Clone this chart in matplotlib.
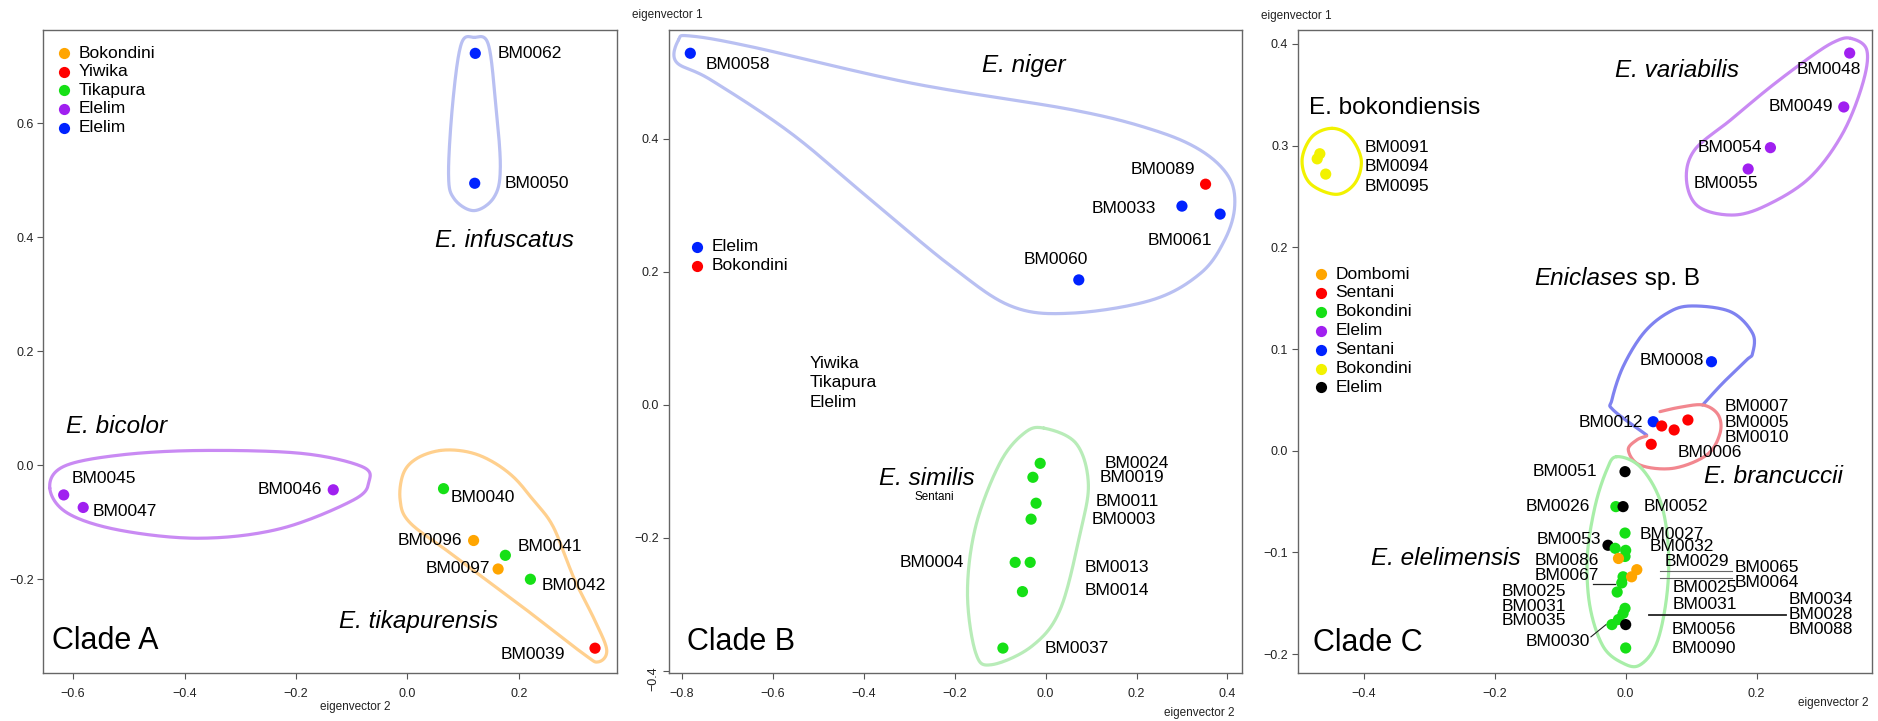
import matplotlib.pyplot as plt
import numpy as np

plt.rcParams['font.family'] = ['Liberation Sans', 'DejaVu Sans']

ORANGE = "#ffa500"
RED = "#ff0000"
GREEN = "#16e016"
PURPLE = "#a020f0"
BLUE = "#0022ff"
YELLOW = "#f2f200"
BLACK = "#000000"

# ---------------- Clade A ----------------
a_legend = ["Bokondini", "Yiwika", "Tikapura", "Elelim", "Elelim"]
a_legend_col = [ORANGE, RED, GREEN, PURPLE, BLUE]
a_ids = ["BM0062", "BM0050", "BM0045", "BM0047", "BM0046", "BM0040",
         "BM0096", "BM0041", "BM0097", "BM0042", "BM0039"]
a_x = [0.122, 0.121, -0.617, -0.582, -0.133, 0.065, 0.119, 0.176, 0.163, 0.221, 0.337]
a_y = [0.723, 0.495, -0.052, -0.074, -0.043, -0.041, -0.132, -0.158, -0.182, -0.200, -0.321]
a_grp = [4, 4, 3, 3, 3, 2, 0, 2, 0, 2, 1]

# ---------------- Clade B ----------------
b_legend = ["Elelim", "Bokondini"]
b_legend_col = [BLUE, RED]
b_extra = ["Yiwika", "Tikapura", "Elelim"]
b_ids = ["BM0058", "BM0089", "BM0033", "BM0061", "BM0060", "BM0024", "BM0019",
         "BM0011", "BM0003", "BM0004", "BM0013", "BM0014", "BM0037"]
b_x = [-0.782, 0.352, 0.300, 0.384, 0.073, -0.012, -0.028, -0.021, -0.032, -0.067, -0.034, -0.051, -0.094]
b_y = [0.529, 0.332, 0.299, 0.287, 0.188, -0.088, -0.109, -0.148, -0.172, -0.237, -0.237, -0.281, -0.366]
b_col = [BLUE, RED, BLUE, BLUE, BLUE] + [GREEN] * 8

# ---------------- Clade C ----------------
c_legend = ["Dombomi", "Sentani", "Bokondini", "Elelim", "Sentani", "Bokondini", "Elelim"]
c_legend_col = [ORANGE, RED, GREEN, PURPLE, BLUE, YELLOW, BLACK]
c_x = [0.342, 0.333, 0.221, 0.187,
       -0.467, -0.471, -0.458,
       0.131, 0.042,
       0.055, 0.074, 0.095, 0.039,
       -0.027,
       -0.015, -0.001, -0.016, 0.000, -0.001, -0.004, -0.006, -0.013, -0.001, -0.004, -0.011, -0.021, 0.000,
       -0.011, 0.017, 0.009,
       -0.001, -0.004, 0.000]
c_y = [0.391, 0.338, 0.298, 0.277,
       0.292, 0.287, 0.272,
       0.0875, 0.0285,
       0.0243, 0.0204, 0.0302, 0.0063,
       -0.093,
       -0.055, -0.081, -0.096, -0.098, -0.104, -0.124, -0.130, -0.139, -0.155, -0.160, -0.166, -0.171, -0.194,
       -0.106, -0.117, -0.124,
       -0.0206, -0.055, -0.171]
c_grp = [3, 3, 3, 3,
         5, 5, 5,
         4, 4,
         1, 1, 1, 1,
         6,
         2, 2, 2, 2, 2, 2, 2, 2, 2, 2, 2, 2, 2,
         0, 0, 0,
         6, 6, 6]

# label placement (offsets in pixels from the point, or data positions for clade C)
a_lab = [(22, 0, 'left'), (30, 0, 'left'), (8, 16, 'left'), (9, -4, 'left'), (-11, 0, 'right'),
         (7, -9, 'left'), (-11, 0, 'right'), (12, 9, 'left'), (-8, 0, 'right'), (11, -6, 'left'),
         (-30, -6, 'right')]
b_lab = [(15, -11, 'left'), (-10, 15, 'right'), (-26, -2, 'right'), (-8, -26, 'right'),
         (-23, 20, 'center'), (64, 0, 'left'), (67, 0, 'left'), (60, 2, 'left'), (61, 0, 'left'),
         (-51, 0, 'right'), (54, -5, 'left'), (62, 1, 'left'), (42, 0, 'left')]
c_lab = [("BM0048", 0.359, 0.375, 'right'), ("BM0049", 0.317, 0.338, 'right'),
         ("BM0054", 0.209, 0.298, 'right'), ("BM0055", 0.153, 0.263, 'center'),
         ("BM0091", -0.399, 0.298, 'left'), ("BM0094", -0.399, 0.279, 'left'),
         ("BM0095", -0.399, 0.260, 'left'), ("BM0008", 0.021, 0.089, 'left'),
         ("BM0012", 0.026, 0.0276, 'right'), ("BM0007", 0.151, 0.043, 'left'),
         ("BM0005", 0.151, 0.0276, 'left'), ("BM0010", 0.151, 0.0128, 'left'),
         ("BM0006", 0.079, -0.002, 'left'), ("BM0051", -0.044, -0.0206, 'right'),
         ("BM0026", -0.0545, -0.055, 'right'), ("BM0052", 0.027, -0.055, 'left'),
         ("BM0027", 0.021, -0.082, 'left'), ("BM0053", -0.038, -0.087, 'right'),
         ("BM0032", 0.037, -0.094, 'left'), ("BM0086", -0.040, -0.108, 'right'),
         ("BM0029", 0.059, -0.1085, 'left'), ("BM0065", 0.166, -0.115, 'left'),
         ("BM0064", 0.166, -0.130, 'left'), ("BM0067", -0.040, -0.123, 'right'),
         ("BM0025", -0.091, -0.138, 'right'), ("BM0025", 0.0715, -0.135, 'left'),
         ("BM0031", -0.091, -0.153, 'right'), ("BM0031", 0.0715, -0.151, 'left'),
         ("BM0034", 0.249, -0.146, 'left'), ("BM0028", 0.249, -0.161, 'left'),
         ("BM0088", 0.249, -0.1756, 'left'), ("BM0035", -0.091, -0.167, 'right'),
         ("BM0056", 0.0696, -0.176, 'left'), ("BM0030", -0.0545, -0.188, 'right'),
         ("BM0090", 0.0696, -0.195, 'left')]
c_leaders = [((0.053, 0.163), (-0.118, -0.118), "#666666", 0.8),
             ((0.053, 0.163), (-0.1255, -0.1255), "#666666", 0.8),
             ((-0.050, -0.016), (-0.131, -0.131), "#222222", 0.9),
             ((0.036, 0.245), (-0.162, -0.162), "#222222", 1.3),
             ((-0.053, -0.030), (-0.183, -0.171), "#222222", 0.8)]

# hand drawn group outlines (control points, data units)
outlines_a = [
    ([0.120, 0.145, 0.158, 0.167, 0.156, 0.120, 0.084, 0.074, 0.082, 0.097],
     [0.751, 0.740, 0.641, 0.524, 0.471, 0.447, 0.468, 0.512, 0.641, 0.740], "#b9c0f2", True),
    ([-0.642, -0.617, -0.516, -0.371, -0.191, -0.082, -0.069, -0.097, -0.227, -0.371, -0.516, -0.610],
     [-0.040, -0.002, 0.018, 0.026, 0.021, -0.002, -0.029, -0.061, -0.111, -0.128, -0.114, -0.084], "#c98af3", True),
    ([0.059, 0.017, -0.007, -0.013, 0.004, 0.077, 0.206, 0.315, 0.343, 0.358, 0.336, 0.300, 0.262,
      0.226, 0.190, 0.148, 0.106],
     [0.026, 0.012, -0.014, -0.060, -0.100, -0.154, -0.248, -0.330, -0.345, -0.324, -0.271, -0.200, -0.108,
      -0.061, -0.020, 0.009, 0.024],
     "#ffd08e", True),
]
outlines_b = [
    ([-0.808, -0.782, -0.649, -0.295, 0.058, 0.235, 0.341, 0.403, 0.416, 0.394, 0.341, 0.235, 0.058,
      -0.074, -0.207, -0.384, -0.561, -0.737, -0.813],
     [0.549, 0.555, 0.539, 0.484, 0.444, 0.414, 0.383, 0.343, 0.298, 0.248, 0.198, 0.158, 0.138,
      0.148, 0.208, 0.308, 0.409, 0.489, 0.516], "#b9c0f2", True),
    ([-0.004, 0.067, 0.094, 0.076, 0.032, -0.030, -0.119, -0.154, -0.172, -0.154, -0.101, -0.048],
     [-0.035, -0.058, -0.118, -0.193, -0.308, -0.363, -0.391, -0.373, -0.283, -0.183, -0.088, -0.043],
     "#b8ecb8", True),
]
outlines_c = [
    ([-0.4483, -0.4208, -0.4037, -0.4135, -0.4422, -0.4819, -0.4941, -0.4788],
     [0.3170, 0.3088, 0.2858, 0.2629, 0.2521, 0.2629, 0.2858, 0.3088], "#f2f200", True),
    ([0.3437, 0.3681, 0.3620, 0.3314, 0.2825, 0.2214, 0.1663, 0.1113, 0.0928, 0.1052, 0.1602, 0.2214, 0.2825, 0.3191],
     [0.4055, 0.3940, 0.3612, 0.3121, 0.2694, 0.2433, 0.2318, 0.2399, 0.2662, 0.2957, 0.3252, 0.3579, 0.3874, 0.4022],
     "#c98af3", True),
    ([0.032, -0.019, -0.021, -0.004, 0.027, 0.063, 0.099, 0.160, 0.1938, 0.1938, 0.1846, 0.148, 0.1174],
     [0.0154, 0.040, 0.050, 0.0826, 0.1154, 0.1351, 0.1423, 0.1367, 0.1154, 0.0958, 0.0892, 0.0663, 0.0449],
     "#7f82f0", False),
    ([0.0524, 0.0829, 0.1185, 0.1414, 0.1440, 0.1237, 0.0727, 0.0218, 0.0040, 0.0168, 0.0321],
     [0.0384, 0.0427, 0.0449, 0.0351, 0.0171, -0.0042, -0.0173, -0.0141, 0.0007, 0.0105, 0.0145],
     "#f2878f", False),
    ([-0.0137, 0.0218, 0.0524, 0.0651, 0.0626, 0.0473, 0.0218, -0.0037, -0.0342, -0.0545, -0.0586, -0.0469, -0.0290],
     [-0.0059, -0.0157, -0.0485, -0.0944, -0.1436, -0.1894, -0.2107, -0.2091, -0.1927, -0.1534, -0.1042, -0.0551, -0.0190],
     "#a8eea8", True),
]

LAB = 12.5
SPEC = 17.5
CLADE = 22
MS = 65


def spline(px, py, closed=True, n=24):
    # Catmull-Rom durch die Kontrollpunkte
    pts = np.column_stack([px, py])
    if closed:
        P = np.vstack([pts[-1], pts, pts[0], pts[1]])
    else:
        P = np.vstack([pts[0], pts, pts[-1]])
    t = np.linspace(0, 1, n, endpoint=False)[:, None]
    out = []
    for i in range(1, len(P) - 2):
        p0, p1, p2, p3 = P[i - 1], P[i], P[i + 1], P[i + 2]
        out.append(0.5 * (2 * p1 + (-p0 + p2) * t + (2 * p0 - 5 * p1 + 4 * p2 - p3) * t ** 2
                          + (-p0 + 3 * p1 - 3 * p2 + p3) * t ** 3))
    out.append(P[-2][None])
    return np.vstack(out)


def style_axes(ax, xlim, ylim, xt, yt):
    ax.set_xlim(*xlim)
    ax.set_ylim(*ylim)
    ax.set_xticks(xt)
    ax.set_yticks(yt)
    ax.set_xticklabels([f"{v:.1f}".replace("-", "\u2212") for v in xt])
    ax.set_yticklabels([f"{v:.1f}".replace("-", "\u2212") for v in yt])
    for s in ax.spines.values():
        s.set_color("#666666")
        s.set_linewidth(1.0)
    ax.tick_params(axis='both', labelsize=9, length=4, width=0.8, color="#555555", labelcolor="#222222")
    ax.tick_params(axis='x', pad=7)
    ax.tick_params(axis='y', pad=3)


def draw_outlines(ax, outlines):
    for ox, oy, col, closed in outlines:
        pts = spline(ox, oy, closed)
        ax.plot(pts[:, 0], pts[:, 1], color=col, lw=2.3, solid_capstyle='round', zorder=1)


def draw_legend(ax, names, cols, x0, y0, dy):
    for i, (nm, col) in enumerate(zip(names, cols)):
        y = y0 - i * dy
        ax.scatter([x0], [y], s=MS, color=col, transform=ax.transAxes, zorder=3, linewidths=0)
        ax.text(x0 + 0.025, y, nm, transform=ax.transAxes, fontsize=LAB, va='center', ha='left')


fig = plt.figure(figsize=(18.78, 7.21), dpi=100)
axA = fig.add_axes([0.0231, 0.067, 0.3053, 0.8914])
axB = fig.add_axes([0.3562, 0.067, 0.3051, 0.8914])
axC = fig.add_axes([0.6912, 0.067, 0.3054, 0.8914])

# ---- panel A ----
style_axes(axA, (-0.6535, 0.376), (-0.364, 0.764), [-0.6, -0.4, -0.2, 0.0, 0.2], [-0.2, 0.0, 0.2, 0.4, 0.6])
draw_outlines(axA, outlines_a)
axA.scatter(a_x, a_y, s=MS, c=[a_legend_col[g] for g in a_grp], linewidths=0, zorder=3)
for i, lid in enumerate(a_ids):
    dx, dy, ha = a_lab[i]
    axA.annotate(lid, (a_x[i], a_y[i]), xytext=(dx, dy), textcoords='offset pixels',
                 fontsize=LAB, ha=ha, va='center')
draw_legend(axA, a_legend, a_legend_col, 0.0364, 0.9638, 0.0289)
axA.text(0.049, 0.395, "E. infuscatus", style='italic', fontsize=SPEC, va='center')
axA.text(-0.613, 0.068, "E. bicolor", style='italic', fontsize=SPEC, va='center')
axA.text(-0.122, -0.274, "E. tikapurensis", style='italic', fontsize=SPEC, va='center')
axA.text(0.015, 0.049, "Clade A", transform=axA.transAxes, fontsize=CLADE, va='center')
fig.text(0.1891, 0.0198, "eigenvector 2", fontsize=8.5, ha='center', va='center', color="#222222")

# ---- panel B ----
style_axes(axB, (-0.829, 0.432), (-0.403, 0.564), [-0.8, -0.6, -0.4, -0.2, 0.0, 0.2, 0.4],
           [-0.4, -0.2, 0.0, 0.2, 0.4])
axB.get_yticklabels()[0].set_rotation(90)
draw_outlines(axB, outlines_b)
axB.scatter(b_x, b_y, s=MS, c=b_col, linewidths=0, zorder=3)
for i, lid in enumerate(b_ids):
    dx, dy, ha = b_lab[i]
    axB.annotate(lid, (b_x[i], b_y[i]), xytext=(dx, dy), textcoords='offset pixels',
                 fontsize=LAB, ha=ha, va='center')
draw_legend(axB, b_legend, b_legend_col, 0.0491, 0.6628, 0.030)
for i, nm in enumerate(b_extra):
    axB.text(0.2454, 0.4814 - i * 0.0304, nm, transform=axB.transAxes, fontsize=LAB, va='center')
axB.text(-0.141, 0.511, "E. niger", style='italic', fontsize=SPEC, va='center')
axB.text(-0.366, -0.111, "E. similis", style='italic', fontsize=SPEC, va='center')
axB.text(-0.244, -0.139, "Sentani", fontsize=8.4, ha='center', va='center')
axB.text(0.032, 0.047, "Clade B", transform=axB.transAxes, fontsize=CLADE, va='center')
fig.text(0.3365, 0.9792, "eigenvector 1", fontsize=8.5, ha='left', va='center', color="#222222")
fig.text(0.6575, 0.0107, "eigenvector 2", fontsize=8.5, ha='right', va='center', color="#222222")

# ---- panel C ----
style_axes(axC, (-0.5002, 0.3755), (-0.2183, 0.4137), [-0.4, -0.2, 0.0, 0.2],
           [-0.2, -0.1, 0.0, 0.1, 0.2, 0.3, 0.4])
draw_outlines(axC, outlines_c)
axC.scatter(c_x, c_y, s=MS, c=[c_legend_col[g] for g in c_grp], linewidths=0, zorder=3)
for txt, x, y, ha in c_lab:
    axC.text(x, y, txt, fontsize=LAB, ha=ha, va='center', zorder=4)
for lx, ly, col, lw in c_leaders:
    axC.plot(lx, ly, color=col, lw=lw, zorder=2)
draw_legend(axC, c_legend, c_legend_col, 0.0405, 0.6203, 0.0294)
axC.text(-0.017, 0.374, "E. variabilis", style='italic', fontsize=SPEC, va='center')
axC.text(-0.483, 0.337, "E. bokondiensis", fontsize=SPEC, va='center')
t = axC.text(-0.139, 0.169, "Eniclases", style='italic', fontsize=SPEC, va='center')
axC.annotate(" sp. B", xy=(1, 0), xycoords=t, fontsize=SPEC, ha='left', va='bottom')
axC.text(0.120, -0.0256, "E. brancuccii", style='italic', fontsize=SPEC, va='center')
axC.text(-0.389, -0.106, "E. elelimensis", style='italic', fontsize=SPEC, va='center')
axC.text(0.0265, 0.0467, "Clade C", transform=axC.transAxes, fontsize=CLADE, va='center')
fig.text(0.6716, 0.9778, "eigenvector 1", fontsize=8.5, ha='left', va='center', color="#222222")
fig.text(0.9951, 0.0245, "eigenvector 2", fontsize=8.5, ha='right', va='center', color="#222222")

fig.savefig("out.png", dpi=100, facecolor="white")
